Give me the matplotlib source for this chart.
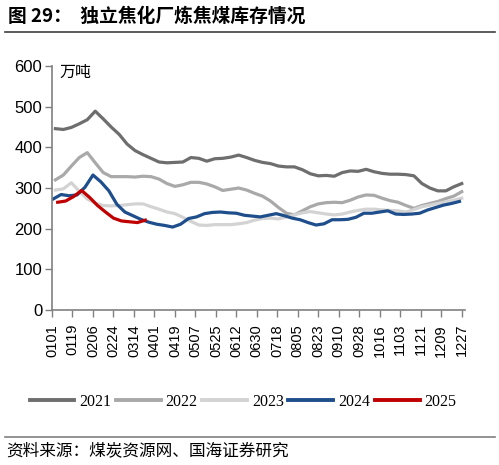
import matplotlib
matplotlib.use("Agg")
import matplotlib.pyplot as plt
import numpy as np

# ---------------- data ----------------
tick_labels = ["0101", "0119", "0206", "0224", "0314", "0401", "0419", "0507",
               "0525", "0612", "0630", "0718", "0805", "0823", "0910", "0928",
               "1016", "1103", "1121", "1209", "1227"]

s2021 = [446, 444, 449, 458, 468, 489, 470, 450, 432, 408, 392, 382, 373, 364,
         362, 363, 364, 375, 373, 366, 372, 373, 376, 381, 375, 368, 363, 360,
         354, 352, 352, 345, 335, 330, 331, 329, 338, 342, 341, 346, 340, 336,
         334, 334, 333, 330, 311, 300, 293, 293, 303, 311]
s2022 = [320, 332, 354, 375, 387, 362, 338, 328, 328, 328, 327, 329, 328, 322,
         311, 304, 308, 314, 314, 310, 303, 294, 297, 300, 295, 287, 280, 268,
         252, 238, 234, 244, 254, 261, 264, 265, 264, 270, 278, 283, 282, 275,
         269, 265, 257, 250, 257, 262, 267, 274, 280, 291]
s2023 = [295, 298, 313, 292, 273, 263, 257, 256, 257, 259, 261, 261, 254, 248,
         241, 237, 228, 218, 209, 208, 210, 210, 210, 212, 215, 221, 225, 226,
         224, 229, 234, 239, 242, 239, 236, 234, 236, 241, 245, 248, 248, 246,
         245, 244, 241, 247, 254, 258, 262, 266, 270, 275]
s2024 = [273, 284, 281, 283, 302, 332, 315, 293, 260, 241, 232, 223, 216, 211,
         208, 204, 211, 225, 229, 237, 240, 241, 239, 238, 233, 231, 229, 233,
         237, 232, 226, 222, 215, 209, 212, 222, 222, 223, 228, 238, 238, 241,
         244, 236, 235, 236, 238, 246, 252, 258, 262, 267]
s2025 = [265, 268, 279, 294, 277, 257, 241, 226, 219, 217, 215, 221]

series = [
    ("2021", s2021, 3, "#6e6e6e"),
    ("2022", s2022, 3, "#a9a9a9"),
    ("2023", s2023, 3, "#d3d3d3"),
    ("2024", s2024, 1, "#1f4e8c"),
    ("2025", s2025, 5, "#c00000"),
]

# ---------------- figure ----------------
plt.rcParams['font.family'] = ['Liberation Sans', 'DejaVu Sans']
fig = plt.figure(figsize=(4.99, 4.65), dpi=100)
ax = fig.add_axes([0.1042, 0.3333, 0.828, 0.5247])

for name, vals, start, col in series:
    x = start + 7 * np.arange(len(vals))
    ax.plot(x, vals, color=col, lw=2.3, label=name, solid_joinstyle='round')

ax.set_xlim(0, 363)
ax.set_ylim(0, 600)
ax.set_yticks(np.arange(0, 601, 100))
ax.set_xticks(np.arange(len(tick_labels)) * 18)
ax.set_xticklabels(tick_labels, rotation=90, fontsize=10.5)
ax.tick_params(axis='y', labelsize=12, length=5, width=1, color='#808080', pad=2)
ax.tick_params(axis='x', length=5, width=1, color='#808080', pad=5)

for sp in ['top', 'right']:
    ax.spines[sp].set_visible(False)
for sp in ['left', 'bottom']:
    ax.spines[sp].set_color('#808080')
    ax.spines[sp].set_linewidth(1.2)

ax.text(0.017, 1.01, "万吨", transform=ax.transAxes, fontsize=11.5,
        family=['Noto Sans CJK SC', 'DejaVu Sans'], va='top', ha='left')

leg = fig.legend(loc='center', bbox_to_anchor=(243 / 499, 1 - 402 / 465), ncol=5,
                 frameon=False, handlelength=2.8, handletextpad=0.3,
                 columnspacing=0.3, prop={'family': 'Liberation Serif', 'size': 11.5})
for line in leg.get_lines():
    line.set_linewidth(2.8)

# title
fig.text(8 / 499, 1 - 16 / 465, "图 29：  独立焦化厂炼焦煤库存情况", fontsize=13.5,
         fontweight='bold', family=['Noto Sans CJK SC', 'DejaVu Sans'],
         va='center', ha='left')
fig.add_artist(plt.Line2D([5 / 499, 495 / 499], [1 - 32 / 465, 1 - 32 / 465],
                          color='#404040', lw=1.2, transform=fig.transFigure))
# footer
fig.add_artist(plt.Line2D([5 / 499, 495 / 499], [1 - 437 / 465, 1 - 437 / 465],
                          color='#808080', lw=1.2, transform=fig.transFigure))
fig.text(6 / 499, 1 - 451 / 465, "资料来源：煤炭资源网、国海证券研究", fontsize=12,
         family=['Noto Sans CJK SC', 'DejaVu Sans'], va='center', ha='left')

fig.savefig("out.png", dpi=100)
